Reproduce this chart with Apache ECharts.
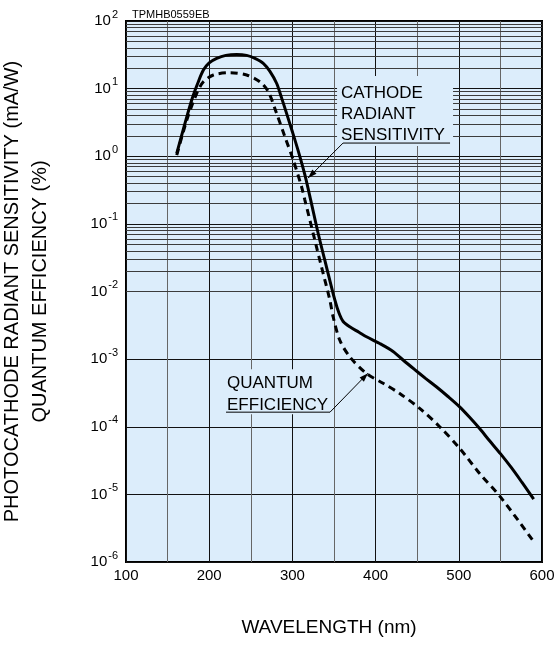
<!DOCTYPE html>
<html>
<head>
<meta charset="utf-8">
<script src="https://cdn.jsdelivr.net/npm/echarts@6/dist/echarts.min.js"></script>
<style>html,body{margin:0;padding:0;background:#fff;}#c{width:558px;height:646px;}</style>
</head>
<body>
<div id="c"></div>
<script>
// ---- data ----
const chartCode = 'TPMHB0559EB';
const xTitle = 'WAVELENGTH (nm)';
const yTitle = 'PHOTOCATHODE RADIANT SENSITIVITY (mA/W)\nQUANTUM EFFICIENCY (%)';
const cathodeLabel = ['CATHODE', 'RADIANT', 'SENSITIVITY'];
const quantumLabel = ['QUANTUM', 'EFFICIENCY'];
const xTickLabels = [100, 200, 300, 400, 500, 600];
const yDecades = [-6, -5, -4, -3, -2, -1, 0, 1, 2];

const cathodeWl = [161, 170, 179, 186, 193, 200, 209, 220, 233, 245, 255, 265, 273, 281, 287, 293, 300, 307, 315, 322, 331, 341, 351, 356, 361, 369, 380, 389, 405, 421, 433, 447, 460, 473, 487, 501, 513, 525, 537, 550, 563, 576, 590];
const cathodeVal = [1.1, 2.8, 6.8, 11.8, 18.8, 24, 28, 31, 32, 31, 28, 23.7, 18, 12, 7.3, 4.3, 2.3, 1.2, 0.53, 0.225, 0.072, 0.023, 0.0075, 0.0048, 0.0036, 0.003, 0.0025, 0.00214, 0.0017, 0.0013, 0.00097, 0.0007, 0.00052, 0.00039, 0.00028, 0.000197, 0.000138, 0.000094, 0.000062, 0.00004, 0.000025, 0.000015, 0.0000085];

const quantumWl = [161, 173, 185, 193, 205, 225, 245, 261, 271, 281, 291, 301, 311, 315, 325, 335, 345, 349, 357, 369, 389, 409, 429, 453, 477, 501, 525, 550, 590];
const quantumVal = [1.04, 3.4, 8.5, 12.6, 15.9, 17.2, 15.9, 12.6, 9, 4.3, 1.94, 0.88, 0.354, 0.225, 0.072, 0.023, 0.0075, 0.0042, 0.0019, 0.00108, 0.000614, 0.00044, 0.00031, 0.000187, 0.0001, 0.000048, 0.0000204, 0.0000092, 0.000002];

// annotation arrow tips, in data units
const cathodeTip = [318.8, 0.476];
const quantumTip = [390.9, 0.00062];

// ---- build ----
const FONT = '"Liberation Sans", Arial, Helvetica, sans-serif';
const minorVals = [];
yDecades.slice(0, -1).forEach(e => { for (let m = 2; m <= 9; m++) minorVals.push(m * Math.pow(10, e)); });

const chart = echarts.init(document.getElementById('c'), null, {renderer: 'canvas'});
const option = {
  animation: false,
  backgroundColor: '#fff',
  textStyle: {fontFamily: FONT},
  title: {text: chartCode, left: 127, top: 4, textStyle: {fontSize: 11, fontWeight: 'normal', color: '#000', fontFamily: FONT}},
  grid: {left: 126, right: 16, top: 21, bottom: 84, containLabel: false, outerBoundsMode: 'none',
    show: true, backgroundColor: '#dcedfb', borderColor: '#000', borderWidth: 2},
  xAxis: {
    type: 'value', min: 100, max: 600, interval: 50,
    name: xTitle, nameLocation: 'middle', nameGap: 56,
    nameTextStyle: {fontSize: 19, color: '#000', fontFamily: FONT, padding: [0, 10, 0, 0]},
    axisLine: {show: false}, axisTick: {show: false},
    axisLabel: {fontSize: 15, color: '#000', margin: 6, fontFamily: FONT,
      formatter: v => xTickLabels.indexOf(v) >= 0 ? String(v) : ''},
    splitLine: {show: true, lineStyle: {color: ['#111', '#666'], width: 1}}
  },
  yAxis: {
    type: 'log', logBase: 10, min: 1e-6, max: 100, splitNumber: 8,
    name: yTitle, nameLocation: 'middle', nameRotate: 90, nameGap: 72,
    nameTextStyle: {fontSize: 20, lineHeight: 28, color: '#000', fontFamily: FONT, align: 'center'},
    axisLine: {show: false}, axisTick: {show: false},
    axisLabel: {
      margin: 8, color: '#000',
      formatter: v => '{b|10}{s|' + Math.round(Math.log10(v)) + '}',
      rich: {
        b: {fontSize: 15, lineHeight: 16, padding: [4, 0, 4, 0], color: '#000', fontFamily: FONT},
        s: {fontSize: 11, lineHeight: 11, padding: [0, 0, 13, 1], color: '#000', fontFamily: FONT}
      }
    },
    splitLine: {show: true, lineStyle: {color: '#111', width: 1}}
  },
  series: [
    {
      name: 'minor grid', type: 'line', data: [], silent: true,
      markLine: {silent: true, symbol: ['none', 'none'], label: {show: false},
        lineStyle: {color: '#3c3c3c', width: 1, type: 'solid'},
        data: minorVals.map(v => ({yAxis: v}))}
    },
    {
      name: 'Cathode radiant sensitivity', type: 'line', showSymbol: false, smooth: 0.3,
      data: cathodeWl.map((w, i) => [w, cathodeVal[i]]),
      lineStyle: {color: '#000', width: 3}, z: 5
    },
    {
      name: 'Quantum efficiency', type: 'line', showSymbol: false, smooth: 0.3,
      data: quantumWl.map((w, i) => [w, quantumVal[i]]),
      lineStyle: {color: '#000', width: 3, type: [7, 5]}, z: 5
    }
  ]
};
chart.setOption(option);

function arrowHead(tip, from, len, half) {
  const dx = tip[0] - from[0], dy = tip[1] - from[1];
  const d = Math.hypot(dx, dy), ux = dx / d, uy = dy / d;
  const bx = tip[0] - ux * len, by = tip[1] - uy * len;
  return {type: 'polygon', z: 100, shape: {points: [tip, [bx - uy * half, by + ux * half], [bx + uy * half, by - ux * half]]}, style: {fill: '#000'}};
}
function labelGroup(tip, lines, textLeft, firstLineY, lineStep, ulY, ulX0, ulX1, box) {
  const els = [];
  els.push({type: 'rect', z: 99, shape: {x: tip[0] + box[0], y: tip[1] + box[1], width: box[2], height: box[3]}, style: {fill: '#dcedfb'}});
  lines.forEach((t, i) => els.push({type: 'text', z: 101, x: tip[0] + textLeft, y: tip[1] + firstLineY + i * lineStep,
    style: {text: t, fontSize: 17, fontFamily: FONT, fill: '#000', verticalAlign: 'middle', align: 'left'}}));
  const from = [tip[0] + ulX0, tip[1] + ulY];
  els.push({type: 'polyline', z: 100, shape: {points: [[tip[0] + ulX1, tip[1] + ulY], from, tip]}, style: {stroke: '#000', lineWidth: 1, fill: null}});
  els.push(arrowHead(tip, from, 9, 3));
  return els;
}
const ct = chart.convertToPixel({gridIndex: 0}, cathodeTip);
const qt = chart.convertToPixel({gridIndex: 0}, quantumTip);
const graphics = []
  .concat(labelGroup(ct, cathodeLabel, 33, -85, 21, -35, 35, 142, [29, -102, 116, 70]))
  .concat(labelGroup(qt, quantumLabel, -141, 10, 22, 39, -38, -142, [-145, -4, 110, 45]));
chart.setOption({graphic: graphics});
</script>
</body>
</html>
